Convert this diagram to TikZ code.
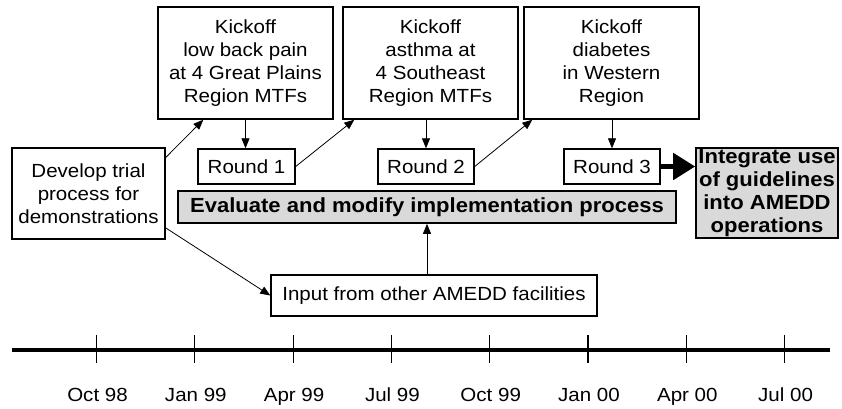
\documentclass[tikz,border=0pt]{standalone}
\usepackage{fontspec}
\setmainfont{Liberation Sans}[FakeStretch=1.08]
\usetikzlibrary{arrows.meta,calc}
\definecolor{boxgray}{RGB}{217,217,217}
\begin{document}
\begin{tikzpicture}[x=1pt,y=-1pt,
  every node/.style={font=\fontsize{19}{23}\selectfont, inner sep=0pt, align=center},
  box/.style={draw, line width=1.4pt, fill=white},
  graybox/.style={draw, line width=1.6pt, fill=boxgray, font=\fontsize{20.4}{23}\selectfont\bfseries},
  arr/.style={-{Triangle[length=10pt,width=8pt]}, line width=0.8pt},
  bigarr/.style={-{Triangle[length=22pt,width=26pt]}, line width=5pt},
  tick/.style={line width=1.1pt},
  datelabel/.style={anchor=base}
]
\useasboundingbox (0,0) rectangle (842,408);

\node[box, minimum width=175, minimum height=112] (k1) at (245.5,63) {Kickoff\\low back pain\\at 4 Great Plains\\Region MTFs};
\node[box, minimum width=175, minimum height=112] (k2) at (430.5,63) {Kickoff\\asthma at\\4 Southeast\\Region MTFs};
\node[box, minimum width=175, minimum height=112] (k3) at (611.5,63) {Kickoff\\diabetes\\in Western\\Region};

\node[box, minimum width=153, minimum height=91] (dev) at (88.5,193.5) {Develop trial\\process for\\demonstrations};

\node[box, minimum width=97, minimum height=35] (r1) at (246.5,166.5) {Round 1};
\node[box, minimum width=96, minimum height=35] (r2) at (426,166.5) {Round 2};
\node[box, minimum width=96, minimum height=35] (r3) at (612,166.5) {Round 3};

\node[graybox, minimum width=498, minimum height=32] (ev) at (427,207) {Evaluate and modify implementation process};
\node[graybox, minimum width=142, minimum height=90] (integ) at (767,193) {Integrate use\\of guidelines\\into AMEDD\\operations};

\node[box, minimum width=326, minimum height=41] (inp) at (434,295.5) {Input from other AMEDD facilities};

% connectors
\draw[arr] (dev.25) -- ($(k1.south west)+(46,0)$);
\draw[arr] (k1.south) -- (k1.south |- r1.north);
\draw[arr] (r1.east) -- ($(k2.south west)+(12,0)$);
\draw[arr] (r2.north |- k2.south) -- (r2.north);
\draw[arr] (r2.east) -- ($(k3.south west)+(9,0)$);
\draw[arr] (r3.north |- k3.south) -- (r3.north);
\draw[bigarr] (r3.east) -- (r3.east -| integ.west);
\draw[arr] (dev.-24) -- (inp.west);
\draw[arr] (ev.south |- inp.north) -- (ev.south);

% timeline
\coordinate (tlA) at (12,350);
\coordinate (tlB) at (830,350);
\draw[line width=3.6pt] (tlA) -- (tlB);
\foreach \lab [count=\i from 0] in {Oct 98,Jan 99,Apr 99,Jul 99,Oct 99,Jan 00,Apr 00,Jul 00}{
  \coordinate (t\i) at (96.5+98.3*\i,335);
  \draw[tick] (t\i) -- ++(0,28);
  \node[datelabel] (l\i) at (97.5+98.3*\i,401) {\lab};
}
\end{tikzpicture}
\end{document}
